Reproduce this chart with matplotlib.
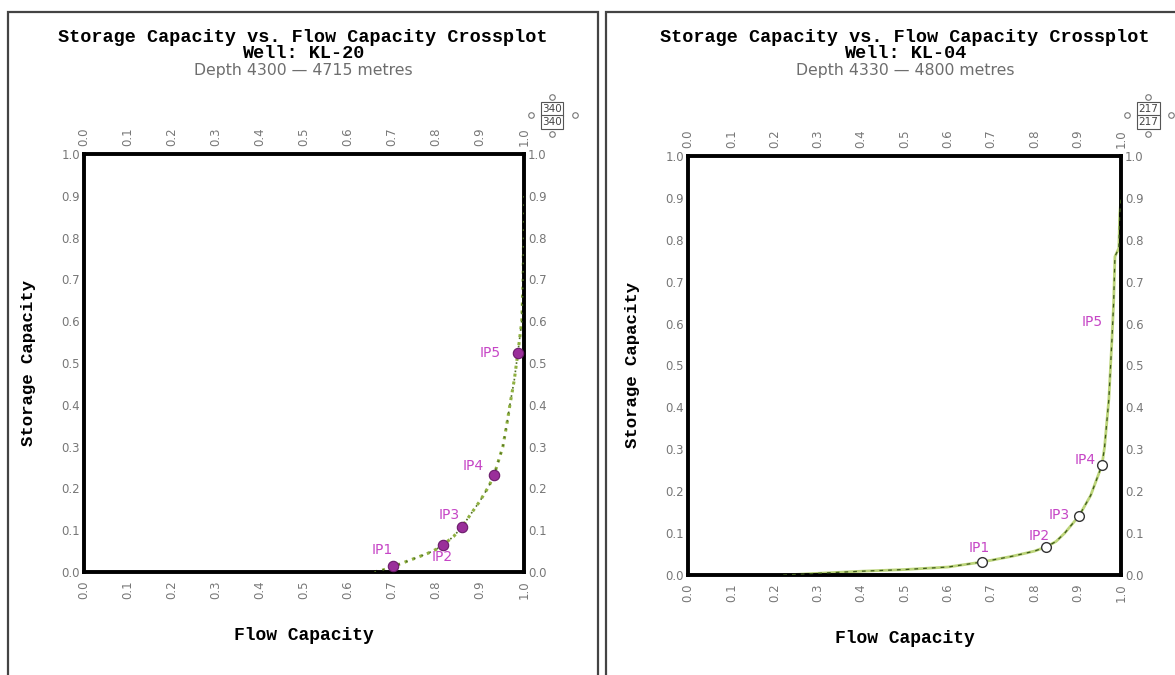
import numpy as np
import matplotlib.pyplot as plt
from matplotlib.patches import Rectangle
from matplotlib.lines import Line2D

# ---- datos ----
ticks = [0.0, 0.1, 0.2, 0.3, 0.4, 0.5, 0.6, 0.7, 0.8, 0.9, 1.0]
tick_labels = ['0.0', '0.1', '0.2', '0.3', '0.4', '0.5', '0.6', '0.7', '0.8', '0.9', '1.0']

# pozo KL-20
kl20_flow = [0.66, 0.68, 0.70, 0.74, 0.78, 0.80, 0.816, 0.84, 0.859, 0.88, 0.90,
             0.92, 0.932, 0.952, 0.962, 0.968, 0.978, 0.986, 0.995, 0.998, 1.0]
kl20_storage = [0.0, 0.005, 0.012, 0.028, 0.044, 0.054, 0.065, 0.085, 0.108, 0.14, 0.17,
                0.205, 0.232, 0.30, 0.36, 0.40, 0.46, 0.524, 0.60, 0.70, 0.90]
kl20_ip = ['IP1', 'IP2', 'IP3', 'IP4', 'IP5']
kl20_ip_flow = [0.702, 0.816, 0.859, 0.932, 0.986]
kl20_ip_storage = [0.014, 0.065, 0.108, 0.232, 0.524]

# pozo KL-04
kl04_flow = [0.22, 0.30, 0.40, 0.50, 0.60, 0.679, 0.75, 0.80, 0.827, 0.85, 0.87,
             0.903, 0.93, 0.956, 0.962, 0.972, 0.979, 0.983, 0.986, 0.995, 0.997, 1.0]
kl04_storage = [0.0, 0.004, 0.009, 0.013, 0.019, 0.031, 0.045, 0.057, 0.067, 0.08, 0.10,
                0.141, 0.19, 0.262, 0.305, 0.42, 0.56, 0.65, 0.76, 0.78, 0.86, 0.90]
kl04_ip = ['IP1', 'IP2', 'IP3', 'IP4', 'IP5']
kl04_ip_flow = [0.679, 0.827, 0.903, 0.956, 0.979]
kl04_ip_storage = [0.031, 0.067, 0.141, 0.262, 0.56]

mono = 'Liberation Mono'
gris = '#777777'
magenta = '#c646c6'

fig = plt.figure(figsize=(11.75, 6.75), dpi=100)
W, H = 1175.0, 675.0


def px(x, y):
    return x / W, 1 - y / H


def panel(rect, flow, storage, ip, ip_f, ip_s, offs, well, depth, cx, icon_x, count, relleno, estilo):
    ax = fig.add_axes(rect)
    ax.set_xlim(0, 1)
    ax.set_ylim(0, 1)
    if estilo == 'puntos':
        ax.plot(flow, storage, color='#8fb040', lw=2.2, ls=(0, (1, 1.6)), zorder=2)
        ax.plot(flow, storage, color='#4f6e22', lw=1.2, ls=(0, (1, 4)), zorder=3)
    else:
        ax.plot(flow, storage, color='#bcd47a', lw=2.0, zorder=2)
        ax.plot(flow, storage, color='#3d5a1a', lw=0.9, ls=(0, (3, 4)), zorder=3)
    for k in range(len(ip)):
        if relleno:
            ax.plot(ip_f[k], ip_s[k], 'o', ms=7.5, mfc='#9a2f9a', mec='#6a1a6a', mew=0.8, zorder=5)
        elif k < 4:
            ax.plot(ip_f[k], ip_s[k], 'o', ms=7, mfc='white', mec='#333333', mew=1.0, zorder=5)
        ax.annotate(ip[k], (ip_f[k], ip_s[k]), xytext=offs[k], textcoords='offset pixels',
                    ha='center', va='center', color=magenta, fontsize=10, zorder=6)

    ax.set_xticks(ticks)
    ax.set_xticklabels(tick_labels, rotation=90)
    ax.set_yticks(ticks)
    ax.set_yticklabels(tick_labels)
    ax.tick_params(axis='both', length=0, labelsize=8.5, labelcolor=gris,
                   top=True, labeltop=True, right=True, labelright=True)
    ax.tick_params(axis='x', pad=6)
    ax.tick_params(axis='y', pad=3)
    for s in ax.spines.values():
        s.set_linewidth(2.8)
        s.set_color('black')

    ax.set_xlabel('Flow Capacity', fontname=mono, fontweight='bold', fontsize=13, labelpad=20)
    ax.set_ylabel('Storage Capacity', fontname=mono, fontweight='bold', fontsize=12.5, labelpad=18)

    fig.text(*px(cx, 38), 'Storage Capacity vs. Flow Capacity Crossplot', ha='center', va='center',
             fontname=mono, fontweight='bold', fontsize=13.3)
    fig.text(*px(cx, 53), 'Well: ' + well, ha='center', va='center',
             fontname=mono, fontweight='bold', fontsize=13.3)
    fig.text(*px(cx, 70), depth, ha='center', va='center', color='#6e6e6e', fontsize=11.3)

    # iconito de la esquina
    fig.text(*px(icon_x, 109), count, ha='center', va='center', fontsize=7.5, color='#444444',
             bbox=dict(boxstyle='square,pad=0.15', fc='white', ec='#555555', lw=0.8))
    fig.text(*px(icon_x, 122), count, ha='center', va='center', fontsize=7.5, color='#444444',
             bbox=dict(boxstyle='square,pad=0.15', fc='white', ec='#555555', lw=0.8))
    cxs = [icon_x - 21, icon_x + 23, icon_x, icon_x]
    cys = [115, 115, 97, 134]
    for a, b in zip(cxs, cys):
        fig.add_artist(Line2D([a / W], [1 - b / H], marker='o', ms=4, mfc='white',
                              mec='#777777', mew=0.8, ls='', transform=fig.transFigure))
    return ax


panel([84 / W, (H - 572) / H, 440 / W, 418 / H], kl20_flow, kl20_storage,
      kl20_ip, kl20_ip_flow, kl20_ip_storage,
      [(-11, 16), (-1, -12), (-13, 12), (-21, 9), (-28, 0)],
      'KL-20', 'Depth 4300 \u2014 4715 metres', 303, 552, '340', True, 'puntos')

panel([688 / W, (H - 575) / H, 433 / W, 419 / H], kl04_flow, kl04_storage,
      kl04_ip, kl04_ip_flow, kl04_ip_storage,
      [(-3, 14), (-7, 11), (-20, 1), (-17, 5), (-20, 18)],
      'KL-04', 'Depth 4330 \u2014 4800 metres', 905, 1148, '217', False, 'linea')

# marcos de los paneles
fig.add_artist(Rectangle((8 / W, -0.05), 590 / W, 1.05 - 12 / H, fill=False,
                         ec='#444444', lw=1.6, transform=fig.transFigure))
fig.add_artist(Rectangle((606 / W, -0.05), 600 / W, 1.05 - 12 / H, fill=False,
                         ec='#444444', lw=1.6, transform=fig.transFigure))

fig.savefig('out.png', dpi=100)
